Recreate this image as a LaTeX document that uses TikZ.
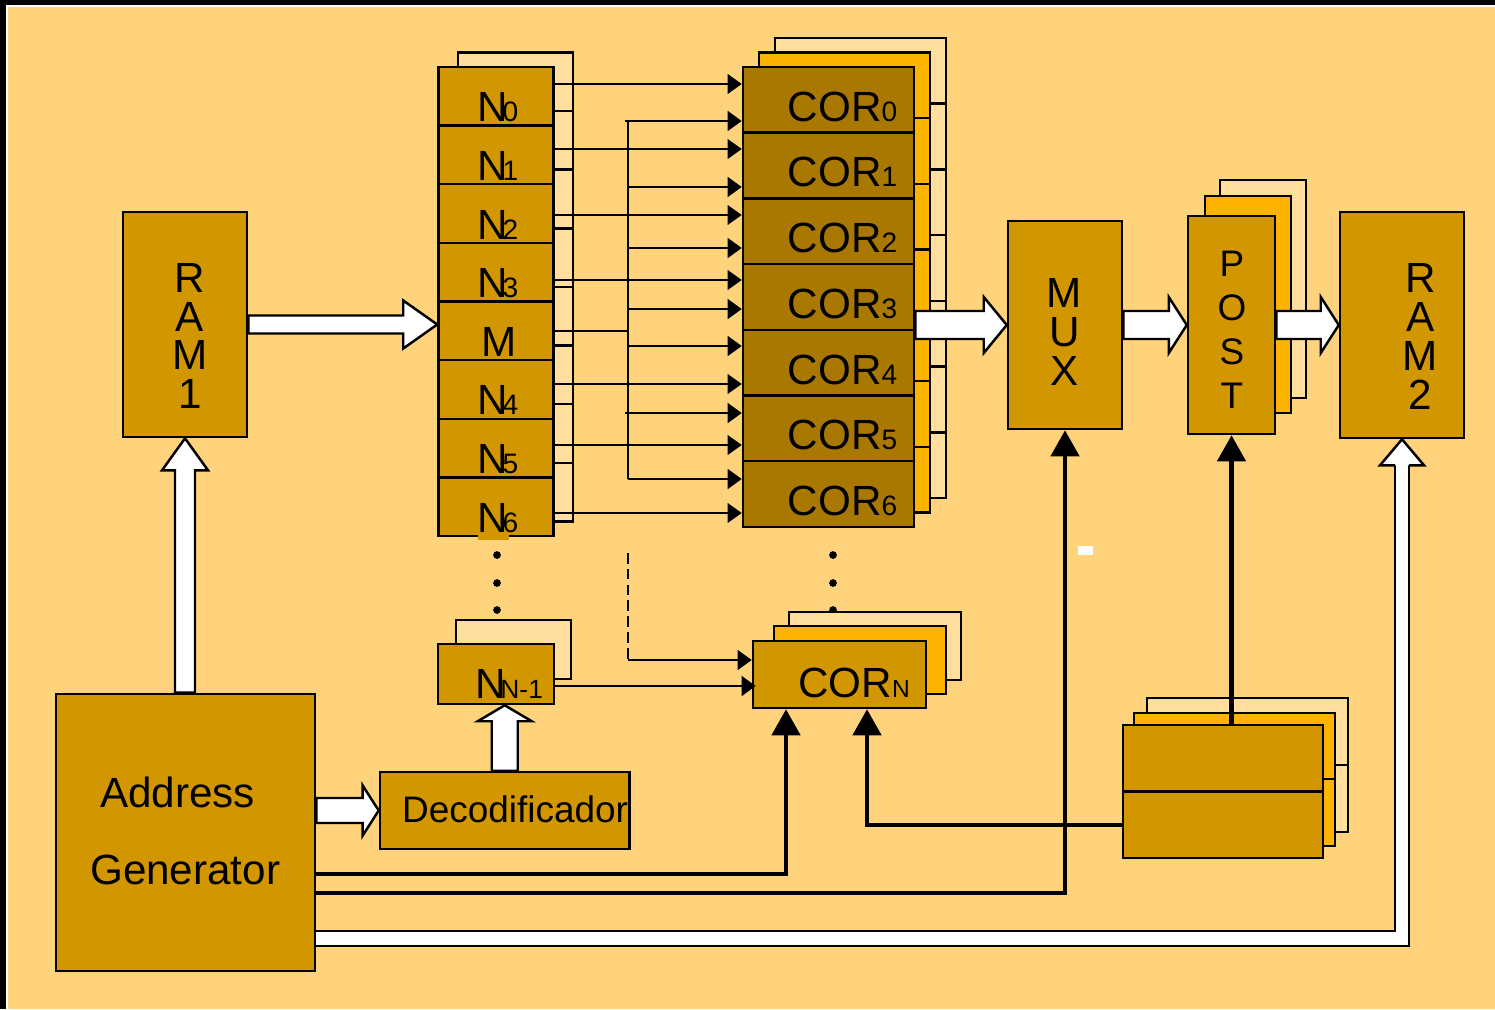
\documentclass[tikz,border=0pt]{standalone}
\usepackage{fontspec}
\setmainfont{Liberation Sans}
\usetikzlibrary{calc,arrows.meta}
\definecolor{fondo}{HTML}{FFD37B}
\definecolor{oro}{HTML}{D29600}
\definecolor{oscuro}{HTML}{A87800}
\definecolor{naranja}{HTML}{FCB400}
\definecolor{claro}{HTML}{FFDE9E}
% flechas blancas: inicio, punta, media altura cuerpo, media altura punta, largo punta
\newcommand{\harrow}[5]{%
  \draw[wblk] ($#1+(0,-#3)$) -- ($#2+(-#5,-#3)$) -- ($#2+(-#5,-#4)$) -- #2
    -- ($#2+(-#5,#4)$) -- ($#2+(-#5,#3)$) -- ($#1+(0,#3)$) -- cycle;}
\newcommand{\varrow}[5]{%
  \draw[wblk] ($#1+(-#3,0)$) -- ($#2+(-#3,#5)$) -- ($#2+(-#4,#5)$) -- #2
    -- ($#2+(#4,#5)$) -- ($#2+(#3,#5)$) -- ($#1+(#3,0)$) -- cycle;}
\newcommand{\Ni}[1]{N\kern-1.5pt{\fontsize{8}{8}\selectfont #1}}
\newcommand{\CORi}[1]{COR{\fontsize{8}{8}\selectfont #1}}
\begin{document}
\begin{tikzpicture}[x=0.01cm,y=-0.01cm,line width=0.7pt,
  caja/.style={draw,fill=oro,inner sep=0pt,line width=0.7pt},
  wblk/.style={draw,fill=white,line width=0.7pt},
  txt/.style={inner sep=0pt,font=\fontsize{12}{11}\selectfont},
  flecha/.style={-{Triangle[length=7.4pt,width=8pt]},line width=1.2pt},
  fina/.style={-{Triangle[length=4pt,width=5.6pt]},line width=0.45pt},
  media/.style={-{Triangle[length=4pt,width=5.6pt]},line width=0.75pt}]
  \useasboundingbox (0,0) rectangle (1495,1009);
  % fondo y marco
  \fill[fondo] (0,0) rectangle (1495,1009);
  \fill[black] (0,0) rectangle (1495,5);
  \fill[black] (0,0) rectangle (6,1009);
  \fill[white] (6,5) rectangle (1495,7);
  \fill[white] (6,5) rectangle (8,1009);
  % RAM 1
  \node[caja,minimum width=1.24cm,minimum height=2.25cm] (ram1) at (185,324.5) {};
  \node[txt,align=center] (lram1) at (190,336) {R\\A\\M\\1};
  % pila N
  \draw[fill=claro] (458,52.5) rectangle (573,521.5);
  \foreach \y in {111,169.6,228.3,286.9,345.5,404.1,462.8} \draw (458,\y)--(573,\y);
  \foreach \row [count=\i from 0] in {n0,n1,n2,n3,m,n4,n5,n6}
    \node[caja,minimum width=1.15cm,minimum height=0.586cm] (\row) at (496,96.3+58.625*\i) {};
  \foreach \row/\d in {n0/0,n1/1,n2/2,n3/3,n4/4,n5/5,n6/6}
    \node[txt,anchor=base west] (l\row) at ($(\row.south west)+(39,-5)$) {\Ni{\d}};
  \node[txt,anchor=base] (lm) at ($(m.south)+(3,-4.5)$) {M};
  \fill[oro] (478,535) rectangle (509,540);
  % pila COR
  \draw[fill=claro] (775,38) rectangle (946,498);
  \foreach \y in {103.7,169.4,235.1,300.9,366.6,432.3} \draw (775,\y)--(946,\y);
  \draw[fill=naranja] (759,52.5) rectangle (930,512.5);
  \foreach \y in {118.2,183.9,249.6,315.4,381.1,446.8} \draw (759,\y)--(930,\y);
  \foreach \i in {0,...,6}
    \node[caja,fill=oscuro,minimum width=1.71cm,minimum height=0.657cm] (c\i) at (828.5,99.86+65.71*\i) {};
  \foreach \i in {0,...,6}
    \node[txt,anchor=base west] (lc\i) at ($(c\i.south west)+(45,-12.7)$) {\CORi{\i}};
  % lineas N -> COR
  \foreach \row/\y in {n0/84,n1/149,n2/215,n3/280,n4/384,n5/445,n6/513}
    \draw[fina] (\row.east|-0,\y) -- (c0.west|-0,\y);
  \coordinate (bus0) at (628,121);
  \coordinate (bus1) at (628,479);
  \draw[line width=0.75pt] (m.east|-0,331) -- (bus0|-0,331);
  \draw[line width=0.75pt] (625,121) -- (bus0) -- (bus1);
  \draw[line width=0.75pt] (625,413) -- (bus0|-0,413);
  \foreach \y in {121,187,248,309,346,413,479}
    \draw[media] (bus0|-0,\y) -- (c0.west|-0,\y);
  % puntos
  \foreach \y in {555,583,610} {\fill (497,\y) circle (1.1pt); \fill (833,\y) circle (1.1pt);}
  % N_{N-1}
  \draw[fill=claro] (456,620) rectangle (571,679);
  \node[caja,minimum width=1.16cm,minimum height=0.6cm] (nn) at (496,674) {};
  \node[txt,anchor=base west] (lnn) at (474,698) {N\kern-1.5pt{\fontsize{7.5}{8}\selectfont N-1}};
  % COR_N
  \draw[fill=claro] (789,612) rectangle (961,680);
  \draw[fill=naranja] (774,626) rectangle (946,694);
  \node[caja,minimum width=1.73cm,minimum height=0.67cm] (corn) at (839.5,674.5) {};
  \node[txt,anchor=base west] (lcorn) at (797,697) {COR{\fontsize{7}{8}\selectfont N}};
  \draw[fina,line width=0.7pt] (nn.east|-0,686) -- ($(corn.west|-0,686)+(4,0)$);
  \coordinate (dsh) at (628,553);
  \draw[dash pattern=on 3pt off 1.5pt,line width=0.6pt] (dsh) -- (dsh|-0,660);
  \draw[fina,line width=0.6pt] (dsh|-0,660) -- (corn.west|-0,660);
  % Address Generator y Decodificador
  \node[caja,minimum width=2.59cm,minimum height=2.77cm] (ag) at (185.5,832.5) {};
  \node[txt,anchor=base west] (lag1) at (99,807) {Address};
  \node[txt,anchor=base west] (lag2) at (89,884) {Generator};
  \node[caja,minimum width=2.495cm,minimum height=0.77cm] (dec) at (504.75,810.5) {};
  \node[inner sep=0pt,anchor=base west,font=\fontsize{10.5}{12}\selectfont] (ldec) at (401,822) {Decodificador};
  % MUX, POST, RAM 2
  \node[caja,minimum width=1.14cm,minimum height=2.08cm] (mux) at (1065,325) {};
  \node[txt,align=center,font=\fontsize{12}{11.2}\selectfont] (lmux) at (1064.5,332) {M\\U\\X};
  \draw[fill=claro] (1220,180) rectangle (1306,398);
  \draw[fill=naranja] (1205,196) rectangle (1291,413);
  \node[caja,minimum width=0.87cm,minimum height=2.18cm] (post) at (1231.5,325) {};
  \node[txt,align=center,font=\fontsize{10.5}{12.5}\selectfont] (lpost) at (1232,330) {P\\O\\S\\T};
  \node[caja,minimum width=1.24cm,minimum height=2.26cm] (ram2) at (1402,325) {};
  \node[txt,align=center] (lram2) at (1420.5,336.5) {R\\A\\M\\2};
  % bloque de control
  \draw[fill=claro] (1147,698) rectangle (1348,832);
  \draw (1147,765) -- (1348,765);
  \draw[fill=naranja] (1134,713) rectangle (1335,846);
  \draw (1134,779) -- (1335,779);
  \node[caja,minimum width=2cm,minimum height=0.665cm] (ctla) at (1223,758.25) {};
  \node[caja,minimum width=2cm,minimum height=0.665cm] (ctlb) at (1223,824.75) {};
  \fill[white] (1078,546) rectangle (1093,555);
  % conexiones
  \coordinate (ag1) at ($(ag.east)+(0,41.5)$);
  \coordinate (ag2) at ($(ag.east)+(0,60.5)$);
  \coordinate (ag3) at ($(ag.east)+(0,106)$);
  \draw[flecha] (ag1) -| ($(corn.south)+(-53.5,0)$);
  \draw[flecha] (ag2) -| (mux.south);
  \draw[flecha] (ctlb.west) -| ($(corn.south)+(27.5,0)$);
  \draw[flecha] (post.south|-ctla.north) -- (post.south);
  \draw[line width=0.6pt,double=white,double distance=3.6pt] (ag3) -| ($(ram2.south)+(0,26)$);
  \filldraw[fill=white,line width=0.7pt] ($(ram2.south)+(-7,26)$) -- ($(ram2.south)+(-22,26)$)
    -- (ram2.south) -- ($(ram2.south)+(22,26)$) -- ($(ram2.south)+(7,26)$);
  % flechas blancas
  \varrow{(ram1.south|-ag.north)}{(ram1.south)}{10}{23}{32}
  \harrow{(ag.east|-dec.west)}{(dec.west)}{12.5}{25}{16}
  \varrow{(dec.north)}{(dec.north|-nn.south)}{13}{27}{16}
  \harrow{(ram1.east)}{(m.west|-ram1.east)}{9}{24}{34}
  \harrow{(c3.east|-mux.west)}{(mux.west)}{14}{28}{23}
  \harrow{(mux.east)}{(post.west|-mux.east)}{14}{28}{18}
  \harrow{(post.east|-mux.east)}{(ram2.west|-mux.east)}{14}{28}{18}
\end{tikzpicture}
\end{document}
